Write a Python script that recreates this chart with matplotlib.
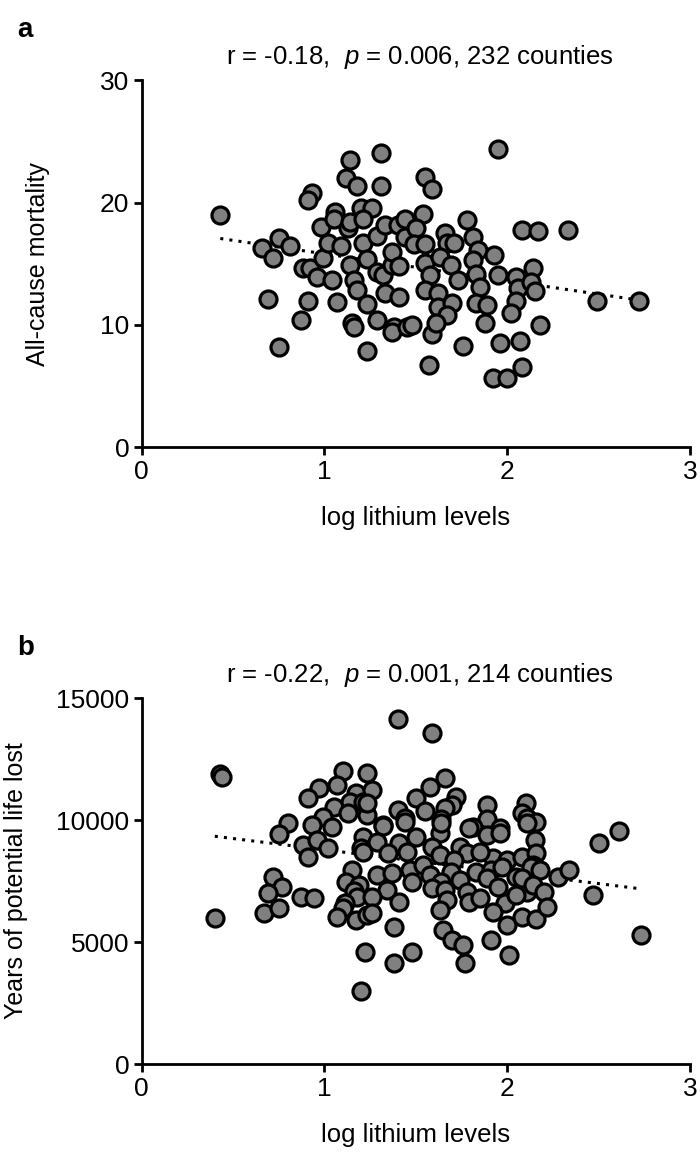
import numpy as np
import matplotlib
matplotlib.use('Agg')
import matplotlib.pyplot as plt

# ==========================================
# basic style (Prism-like)
# ==========================================
plt.rcParams['font.family'] = ['Liberation Sans', 'DejaVu Sans']
plt.rcParams['mathtext.fontset'] = 'custom'
plt.rcParams['mathtext.rm'] = 'Liberation Sans'
plt.rcParams['mathtext.it'] = 'Liberation Sans:italic'

# ==========================================
# data
# ==========================================
# panel a: log lithium vs all-cause mortality
a_lithium = [0.43, 0.66, 0.75, 0.81, 0.72, 0.69, 0.75, 0.87, 0.91, 0.93, 0.91, 0.88, 0.92, 0.96,
             1.04, 0.99, 0.98, 1.02, 1.06, 1.05, 1.09, 1.13, 1.14, 1.14, 1.12, 1.18, 1.31, 1.31,
             1.20, 1.26, 1.21, 1.21, 1.29, 1.33, 1.40, 1.44, 1.44, 1.14, 1.23, 1.16, 1.18, 1.29,
             1.32, 1.37, 1.37, 1.41, 1.23, 1.33, 1.41, 1.15, 1.16, 1.29, 1.38, 1.37, 1.45, 1.23,
             1.07, 1.95, 1.55, 1.59, 1.54, 1.50, 1.49, 1.55, 1.78, 1.66, 1.67, 1.71, 1.81, 1.84,
             1.93, 2.08, 2.17, 2.33, 1.55, 1.63, 1.69, 1.58, 1.73, 1.81, 1.83, 1.85, 1.95, 2.05,
             2.06, 2.14, 2.13, 2.15, 1.55, 1.62, 1.62, 1.70, 1.67, 1.83, 1.89, 2.05, 2.02, 2.49,
             2.72, 1.48, 1.59, 1.61, 1.88, 2.18, 1.76, 1.96, 2.07, 1.57, 2.08, 1.92, 2.00]
a_mortality = [19.0, 16.3, 17.1, 16.5, 15.5, 12.1, 8.2, 10.4, 12.0, 20.8, 20.2, 14.7, 14.7, 13.9,
               13.7, 15.5, 18.0, 16.7, 19.2, 18.7, 16.5, 17.9, 18.4, 23.5, 22.0, 21.4, 24.1, 21.4,
               19.6, 19.6, 18.7, 16.7, 17.3, 18.2, 18.2, 18.7, 17.2, 14.9, 15.4, 13.7, 12.9, 14.3,
               14.1, 14.9, 16.0, 14.8, 11.7, 12.6, 12.3, 10.2, 9.8, 10.4, 9.8, 9.4, 9.8, 7.9,
               11.9, 24.4, 22.1, 21.1, 19.1, 17.9, 16.6, 16.6, 18.6, 17.5, 16.7, 16.7, 17.2, 16.1,
               15.7, 17.8, 17.7, 17.8, 15.1, 15.6, 14.9, 14.1, 13.7, 15.3, 14.2, 13.1, 14.1, 13.9,
               13.0, 14.7, 13.5, 12.8, 12.9, 12.6, 11.5, 11.8, 10.8, 11.8, 11.6, 12.0, 11.0, 12.0,
               12.0, 10.0, 9.3, 10.2, 10.2, 10.0, 8.3, 8.5, 8.7, 6.7, 6.6, 5.7, 5.7]
a_fit = (-2.2, 18.02)   # slope, intercept of the dotted regression line
a_title = 'r = -0.18,  $\\mathit{p}$ = 0.006, 232 counties'

# panel b: log lithium vs years of potential life lost
b_lithium = [0.43, 0.44, 1.10, 1.23, 0.97, 1.07, 0.91, 1.17, 1.14, 1.05, 1.13, 0.99, 1.23, 1.21,
             0.80, 0.93, 1.04, 1.40, 1.59, 1.66, 1.26, 1.58, 1.50, 1.72, 1.70, 1.66, 1.89, 2.10,
             1.23, 1.55, 1.40, 1.44, 1.64, 1.89, 2.08, 2.11, 1.32, 1.81, 1.96, 2.16, 2.61, 0.75,
             0.88, 0.96, 1.02, 0.91, 1.21, 1.20, 1.15, 0.72, 0.77, 0.69, 0.87, 0.94, 1.12, 1.19,
             1.16, 1.18, 1.11, 1.10, 0.67, 0.75, 0.40, 1.07, 1.17, 1.23, 1.22, 1.32, 1.44, 1.29,
             1.41, 1.50, 1.63, 1.64, 1.79, 1.89, 1.96, 2.11, 2.15, 1.35, 1.21, 1.45, 1.59, 1.63,
             1.74, 1.78, 1.71, 1.92, 2.00, 2.08, 2.16, 1.85, 1.29, 1.37, 1.47, 1.54, 1.58, 1.69,
             1.74, 1.83, 1.91, 1.97, 2.05, 2.14, 1.48, 1.64, 1.89, 1.34, 1.59, 1.66, 1.78, 1.95,
             2.11, 1.26, 1.41, 1.67, 1.79, 1.85, 1.99, 2.05, 1.26, 1.63, 1.92, 2.08, 2.16, 1.38,
             1.65, 1.70, 1.76, 2.00, 1.91, 1.48, 1.38, 1.77, 2.01, 2.13, 2.18, 2.08, 2.14, 2.20,
             2.22, 2.28, 2.34, 2.50, 2.47, 2.73, 1.20]
b_yll = [11880, 11760, 12010, 11930, 11310, 11430, 10900, 11110, 10740, 10530, 10290, 10120,
         10200, 10740, 9880, 9790, 9710, 14140, 13560, 11720, 11230, 11350, 10900, 10940, 10610,
         10490, 10610, 10700, 10700, 10370, 10410, 10080, 10040, 10040, 10290, 10080, 9790, 9710,
         9670, 9920, 9550, 9430, 8970, 9180, 8850, 8480, 9300, 8850, 7950, 7660, 7250, 7010,
         6840, 6800, 7460, 7340, 7090, 6840, 6600, 6390, 6190, 6390, 5980, 6020, 5900, 6110,
         4590, 9750, 9920, 9100, 9060, 9300, 9470, 9880, 9670, 9380, 9470, 9880, 9180, 8650,
         8690, 8690, 8890, 8570, 8890, 8650, 8360, 8440, 8360, 8480, 8650, 8690, 7750, 7830,
         7950, 8160, 7750, 7870, 7540, 7870, 7950, 8070, 7660, 8160, 7460, 7460, 7620, 7130,
         7210, 7130, 7050, 7250, 7050, 6840, 6640, 6720, 6640, 6800, 6600, 6930, 6190, 6310,
         6230, 6020, 5940, 5610, 5490, 5080, 4880, 5700, 5080, 4590, 4140, 4140, 4470, 8070,
         7950, 7620, 7340, 7050, 6430, 7660, 7950, 9060, 6930, 5290, 3000]
b_fit = (-924.0, 9703.0)
b_title = 'r = -0.22,  $\\mathit{p}$ = 0.001, 214 counties'

# ==========================================
# plotting
# ==========================================
W, H = 700, 1161
fig = plt.figure(figsize=(W / 100, H / 100), dpi=100)

# ylab_x: right edge (in px) of the rotated y label
panels = [
    dict(letter='a', x=a_lithium, y=a_mortality, fit=a_fit, title=a_title,
         ylim=(0, 30), yticks=[0, 10, 20, 30], ylabel='All-cause mortality',
         top=80.4, bottom=447.3, ylab_x=50),
    dict(letter='b', x=b_lithium, y=b_yll, fit=b_fit, title=b_title,
         ylim=(0, 15000), yticks=[0, 5000, 10000, 15000], ylabel='Years of potential life lost',
         top=698, bottom=1064, ylab_x=28),
]

left_px, right_px = 141.7, 690

for p in panels:
    ax = fig.add_axes([left_px / W, 1 - p['bottom'] / H,
                       (right_px - left_px) / W, (p['bottom'] - p['top']) / H])
    x = np.array(p['x'])
    y = np.array(p['y'])

    slope, icpt = p['fit']
    xf = np.array([x.min(), x.max()])
    ax.plot(xf, slope * xf + icpt, color='black', lw=2.2, linestyle=(0, (1, 2.0)), zorder=1)

    ax.scatter(x, y, s=150, facecolor='#808080', edgecolor='black', linewidths=2.3,
               zorder=2, clip_on=False)

    ax.set_xlim(0, 3)
    ax.set_ylim(*p['ylim'])
    ax.set_xticks([0, 1, 2, 3])
    ax.set_yticks(p['yticks'])
    for s in ['top', 'right']:
        ax.spines[s].set_visible(False)
    for s in ['left', 'bottom']:
        ax.spines[s].set_linewidth(2.0)
    ax.tick_params(direction='out', length=6, width=2.0, labelsize=19, pad=3)

    ax.set_xlabel('log lithium levels', fontsize=18.5, labelpad=16)
    ax.set_ylabel(p['ylabel'], fontsize=18)
    ax.yaxis.set_label_coords((p['ylab_x'] - left_px) / (right_px - left_px), 0.5)

    fig.text(0.5 * (left_px + right_px) / W + 0.005, 1 - (p['top'] - 23) / H, p['title'],
             fontsize=18.5, ha='center', va='center')
    fig.text(17 / W, 1 - (p['top'] - 50) / H, p['letter'],
             fontsize=20, fontweight='bold', ha='left', va='center')

plt.savefig('out.png', dpi=100)
